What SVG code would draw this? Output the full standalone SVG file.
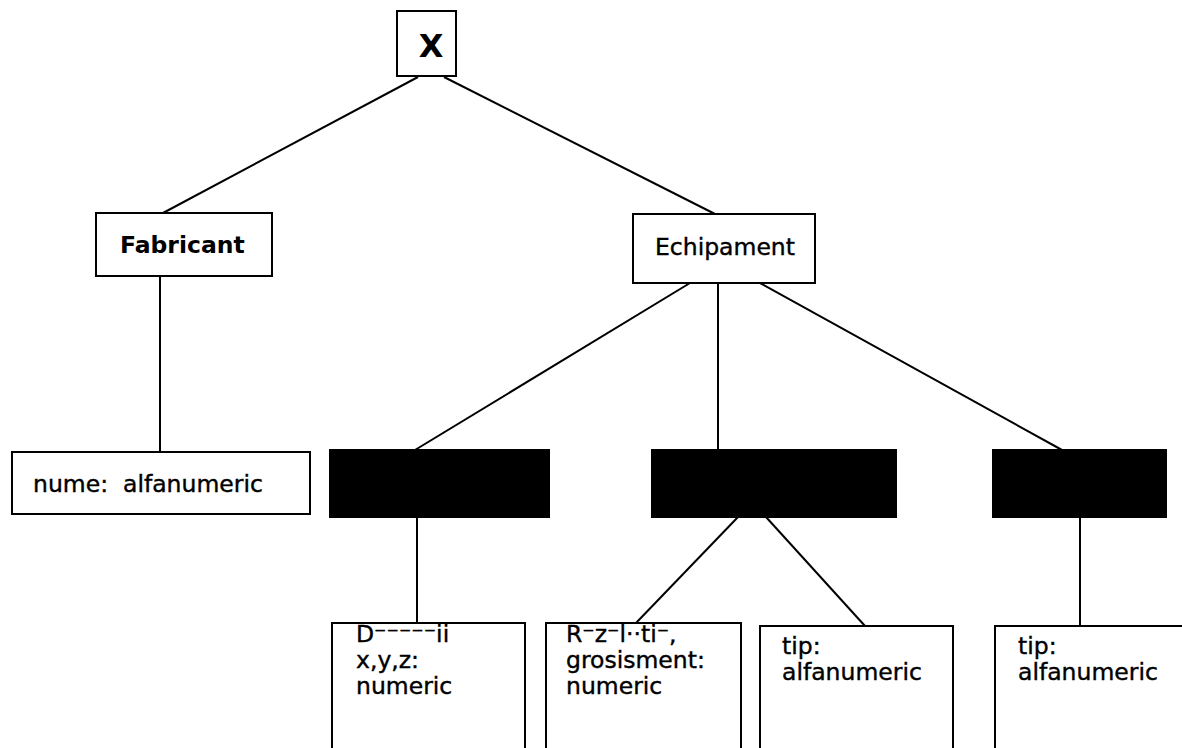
<svg xmlns="http://www.w3.org/2000/svg" width="1182" height="748" viewBox="0 0 1182 748">
  <style>
    .box { fill: #fff; stroke: #000; stroke-width: 2; }
    .filled { fill: #000; stroke: #000; stroke-width: 2; }
    .link { stroke: #000; stroke-width: 2; fill: none; }
    text { font-family: "DejaVu Sans", Verdana, sans-serif; font-size: 23.5px; fill: #000; stroke: #000; stroke-width: 0.4; }
    .b { font-weight: bold; stroke-width: 0; }
    .big { font-size: 32px; }
  </style>
  <rect width="1182" height="748" fill="#fff"/>

  <g id="connectors">
    <line class="link" x1="418" y1="77" x2="163" y2="213"/>
    <line class="link" x1="444" y1="77" x2="715" y2="214"/>
    <line class="link" x1="160" y1="276" x2="160" y2="452"/>
    <line class="link" x1="690" y1="283" x2="415" y2="450"/>
    <line class="link" x1="718" y1="283" x2="718" y2="450"/>
    <line class="link" x1="760" y1="283" x2="1062" y2="450"/>
    <line class="link" x1="417" y1="517" x2="417" y2="623"/>
    <line class="link" x1="738" y1="517" x2="636" y2="623"/>
    <line class="link" x1="766" y1="517" x2="865" y2="626"/>
    <line class="link" x1="1080" y1="517" x2="1080" y2="626"/>
  </g>

  <g id="root">
    <rect class="box" x="397" y="11" width="59" height="65"/>
    <text class="b big" x="431" y="57" text-anchor="middle">X</text>
  </g>

  <g id="fabricant">
    <rect class="box" x="96" y="213" width="176" height="63"/>
    <text class="b" x="120" y="253">Fabricant</text>
  </g>

  <g id="echipament">
    <rect class="box" x="633" y="214" width="182" height="69"/>
    <text x="655" y="255">Echipament</text>
  </g>

  <g id="nume">
    <rect class="box" x="12" y="452" width="298" height="62"/>
    <text x="33" y="492" xml:space="preserve">nume:  alfanumeric</text>
  </g>

  <g id="group-left">
    <rect class="filled" x="330" y="450" width="219" height="67"/>
  </g>

  <g id="group-mid">
    <rect class="filled" x="652" y="450" width="244" height="67"/>
  </g>

  <g id="group-right">
    <rect class="filled" x="993" y="450" width="173" height="67"/>
  </g>

  <g id="coord">
    <rect class="box" x="332" y="623" width="193" height="130"/>
    <text x="356" y="642">D⁻⁻⁻⁻⁻ii</text>
    <text x="356" y="668">x,y,z:</text>
    <text x="356" y="694">numeric</text>
  </g>

  <g id="rezolutie">
    <rect class="box" x="546" y="623" width="195" height="130"/>
    <text x="566" y="642">R⁻z⁻l··ti⁻,</text>
    <text x="566" y="668">grosisment:</text>
    <text x="566" y="694">numeric</text>
  </g>

  <g id="tip-mid">
    <rect class="box" x="760" y="626" width="193" height="127"/>
    <text x="782" y="654">tip:</text>
    <text x="782" y="680">alfanumeric</text>
  </g>

  <g id="tip-right">
    <rect class="box" x="995" y="626" width="200" height="127"/>
    <text x="1018" y="654">tip:</text>
    <text x="1018" y="680">alfanumeric</text>
  </g>
</svg>
